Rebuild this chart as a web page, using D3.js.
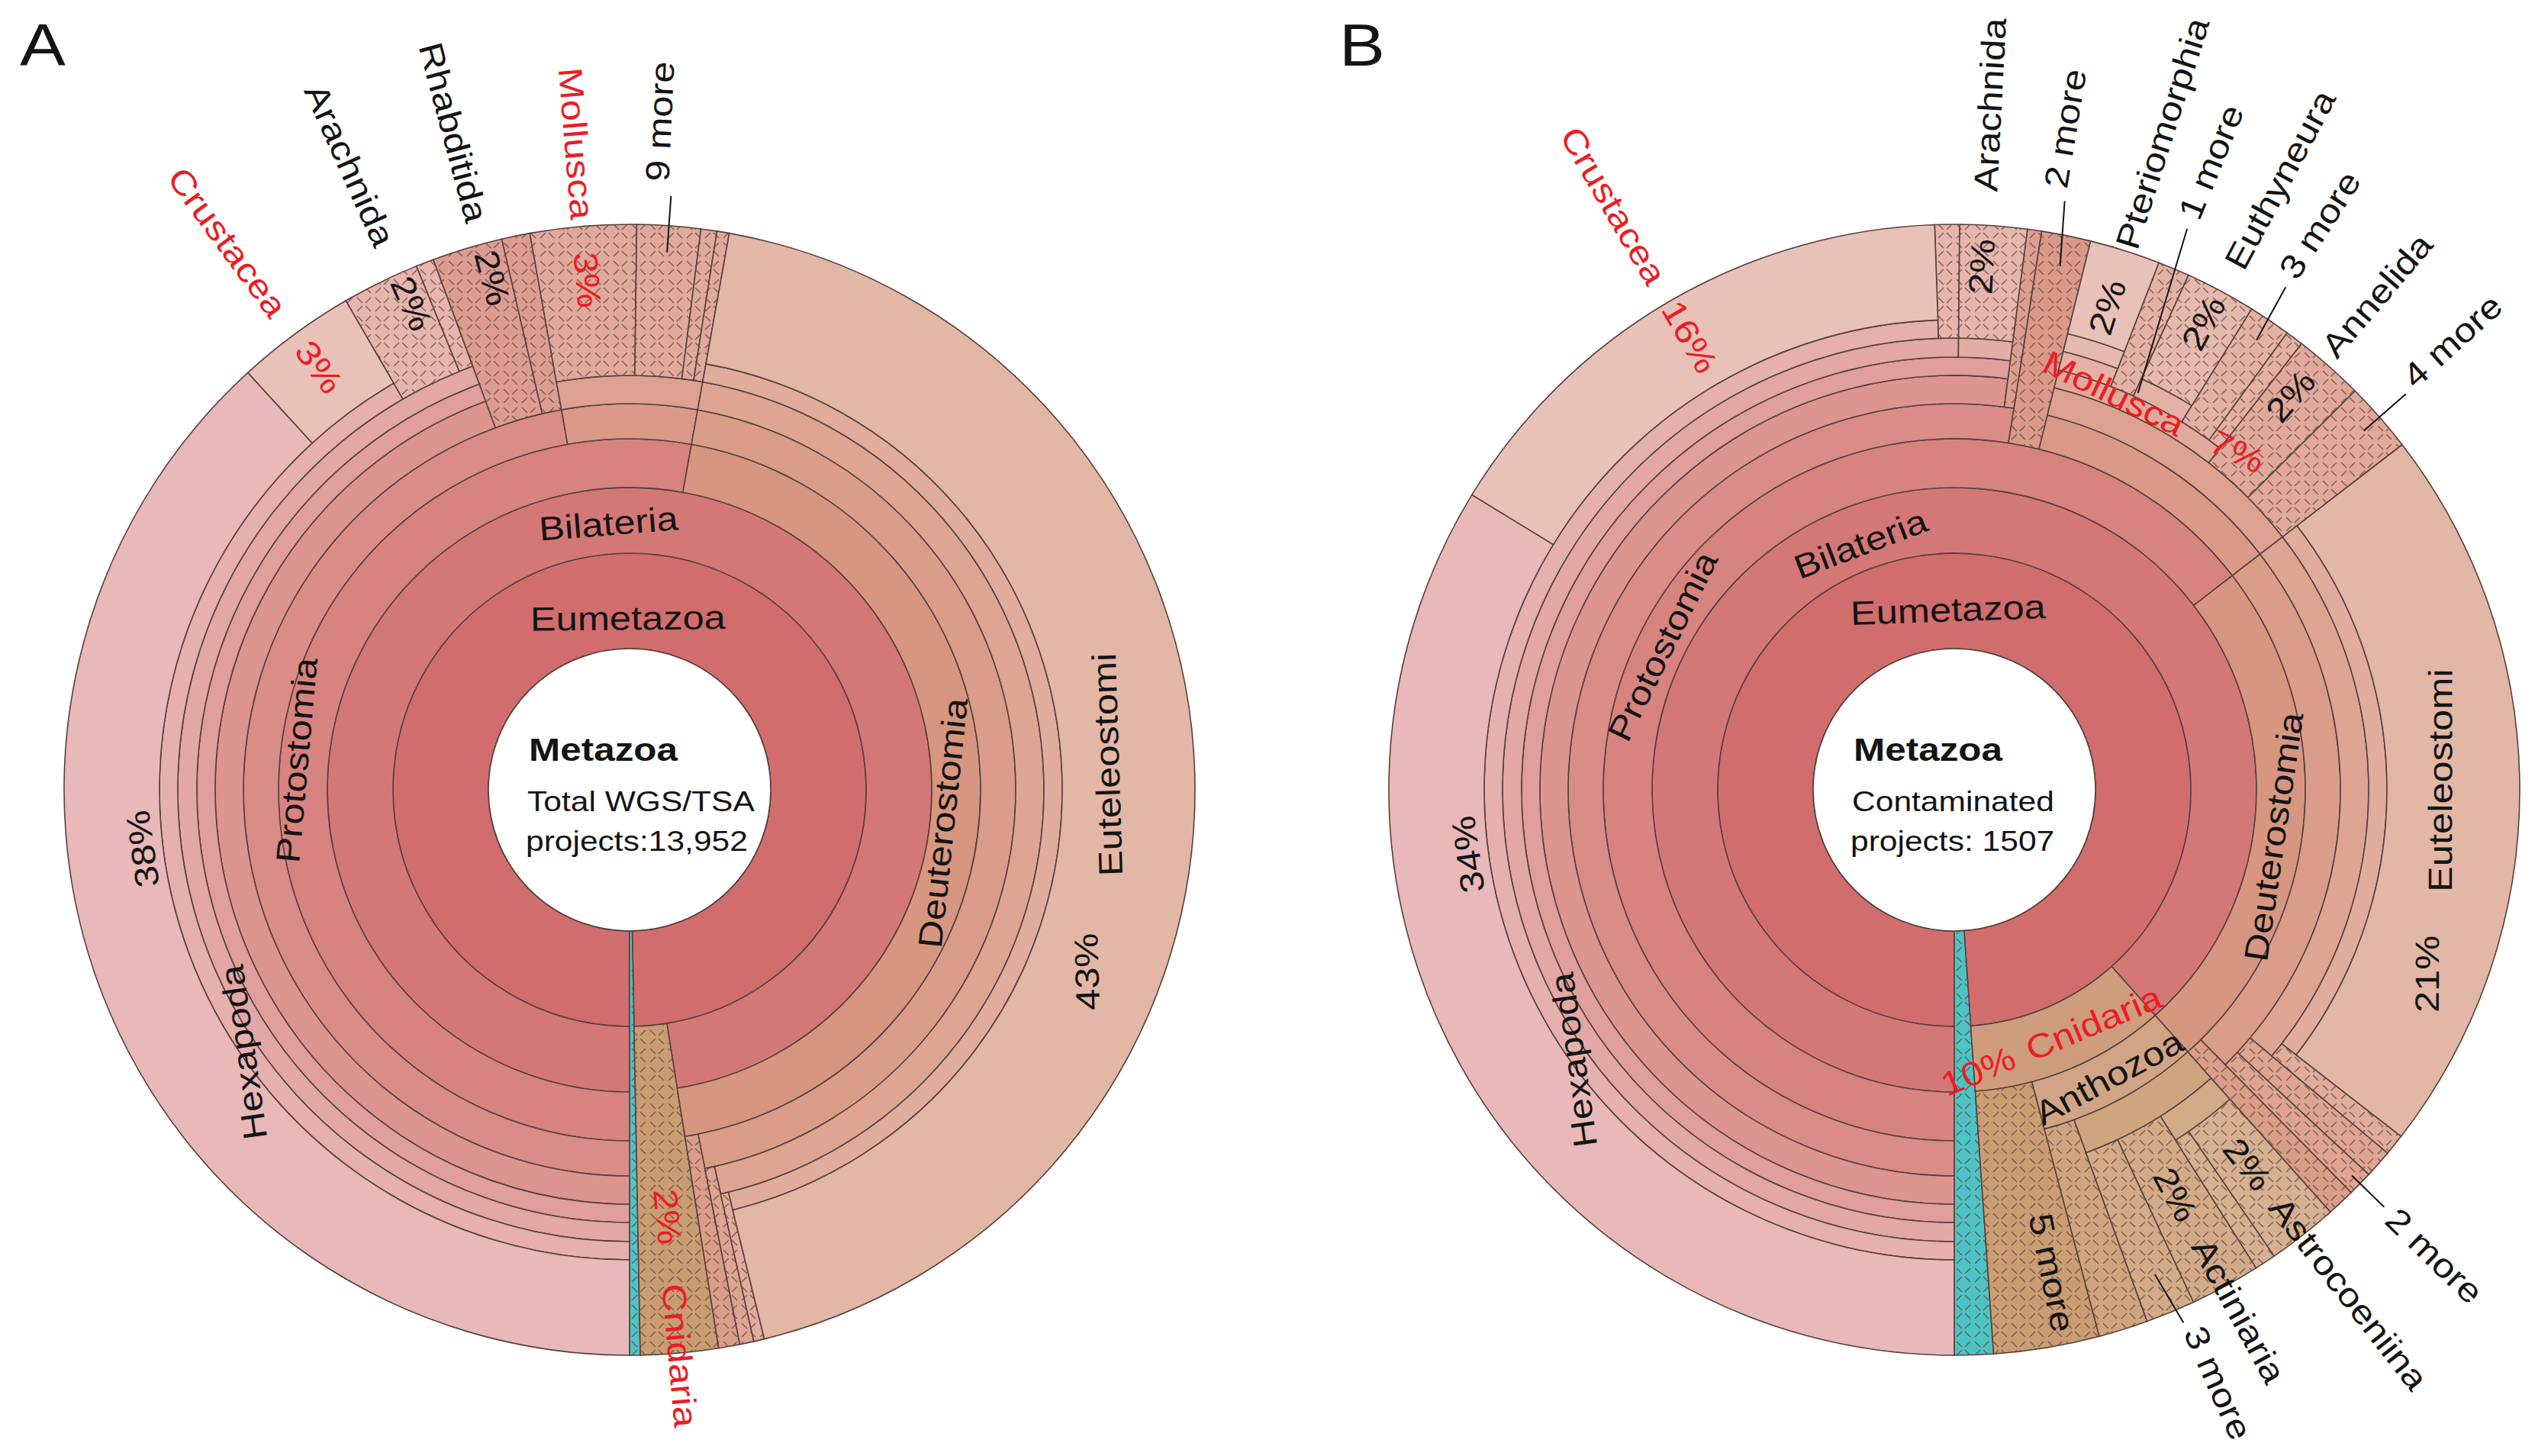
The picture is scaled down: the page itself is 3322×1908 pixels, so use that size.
<!DOCTYPE html>
<html>
<head>
    <meta charset="UTF-8">
    <script src="https://d3js.org/d3.v7.min.js"></script>
    <style>
        body { margin: 0; background: #ffffff; }
        text { font-family: "Liberation Sans", Arial, sans-serif; }
    </style>
</head>
<body>
<div id="Krona"></div>
<script>
    // ---------- panel A : all WGS/TSA projects (13,952), % of projects ----------
    const namesA = ["Metazoa", "Eumetazoa", "Bilateria", "Protostomia", "Ecdysozoa", "Panarthropoda",
        "Arthropoda", "Euarthropoda", "Pancrustacea", "Hexapoda", "Crustacea", "Arachnida", "Myriapoda",
        "Rhabditida", "Tardigrada", "Spiralia", "Lophotrochozoa", "Mollusca", "more9", "more9b", "more9c",
        "Deuterostomia", "Chordata", "Craniata", "Vertebrata", "Euteleostomi", "Cyclostomata", "Tunicata",
        "Ambulacraria", "Cnidaria", "Porifera"];
    const parentsA = ["", "Metazoa", "Eumetazoa", "Bilateria", "Protostomia", "Ecdysozoa",
        "Panarthropoda", "Arthropoda", "Euarthropoda", "Pancrustacea", "Pancrustacea", "Euarthropoda", "Euarthropoda",
        "Ecdysozoa", "Ecdysozoa", "Protostomia", "Spiralia", "Lophotrochozoa", "Lophotrochozoa", "Lophotrochozoa", "Lophotrochozoa",
        "Bilateria", "Deuterostomia", "Chordata", "Craniata", "Vertebrata", "Craniata", "Chordata",
        "Deuterostomia", "Eumetazoa", "Metazoa"];
    const valuesA = [0, 0, 0, 0, 0, 0,
        0, 0, 0, 37.9, 3.4, 2.2, 0.5,
        2.0, 0.8, 0, 0, 3.0, 1.8, 0.45, 0.35,
        0, 0, 0, 0, 43.0, 0.3, 0.4,
        0.6, 2.2, 0.3];
    const hatchedA = ["Arachnida", "Myriapoda", "Rhabditida", "Tardigrada", "Mollusca", "more9", "more9b", "more9c",
        "Cyclostomata", "Tunicata", "Ambulacraria", "Cnidaria", "Porifera"];
    const centerA = ["Metazoa", "Total WGS/TSA", "projects:13,952"];

    // ---------- panel B : contaminated projects (1507), % of projects ----------
    const namesB = ["Metazoa", "Eumetazoa", "Bilateria", "Protostomia", "Ecdysozoa", "Panarthropoda",
        "Arthropoda", "Mandibulata", "Pancrustacea", "Hexapoda", "Crustacea", "Myriapoda", "Chelicerata", "Arachnida",
        "Tardigrada", "more2p", "Spiralia", "Lophotrochozoa", "Mollusca", "Bivalvia", "Autobranchia", "Pteriomorphia",
        "more1", "Gastropoda", "Euthyneura", "more3m", "Polyplacophora", "Annelida", "more4",
        "Deuterostomia", "Chordata", "Craniata", "Vertebrata", "Euteleostomi", "Cyclostomata", "Tunicata", "more2d",
        "Ambulacraria", "Cnidaria", "Anthozoa", "Hexacorallia", "Scleractinia", "Astrocoeniina", "Faviina",
        "Actiniaria", "more3c", "Octocorallia", "more5", "Porifera"];
    const parentsB = ["", "Metazoa", "Eumetazoa", "Bilateria", "Protostomia", "Ecdysozoa",
        "Panarthropoda", "Arthropoda", "Mandibulata", "Pancrustacea", "Pancrustacea", "Mandibulata", "Arthropoda", "Chelicerata",
        "Ecdysozoa", "Protostomia", "Protostomia", "Spiralia", "Lophotrochozoa", "Mollusca", "Bivalvia", "Autobranchia",
        "Mollusca", "Mollusca", "Gastropoda", "Mollusca", "Mollusca", "Lophotrochozoa", "Lophotrochozoa",
        "Bilateria", "Deuterostomia", "Chordata", "Craniata", "Vertebrata", "Craniata", "Chordata", "Chordata",
        "Deuterostomia", "Eumetazoa", "Cnidaria", "Anthozoa", "Hexacorallia", "Scleractinia", "Scleractinia",
        "Hexacorallia", "Hexacorallia", "Anthozoa", "Cnidaria", "Metazoa"];
    const valuesB = [0, 0, 0, 0, 0, 0,
        0, 0, 0, 33.5, 15.6, 0.7, 0, 1.9,
        0.4, 1.4, 0, 0, 0, 0, 0, 2.0,
        0.9, 0, 2.0, 1.2, 0.5, 2.0, 2.0,
        0, 0, 0, 0, 20.8, 0.6, 0.8, 0.7,
        0.8, 0, 0, 0, 0, 2.0, 0.6,
        2.0, 1.4, 1.4, 3.0, 1.1];
    const hatchedB = ["Myriapoda", "Arachnida", "Tardigrada", "more2p", "more1", "Euthyneura", "more3m", "Polyplacophora",
        "Annelida", "more4", "Cyclostomata", "Tunicata", "more2d", "Ambulacraria", "Astrocoeniina", "Faviina",
        "Actiniaria", "more3c", "Octocorallia", "more5", "Porifera"];
    const centerB = ["Metazoa", "Contaminated", "projects: 1507"];

    // ---------- styles / layout ----------
    const width = 3322, height = 1908;
    const ringR = [185, 310, 396, 460, 506, 543, 567, 592, 616];   // ring borders by depth
    const outerR = 741;
    const stretch = 1.15;
    const red = "#ec1c24", ink = "#141414", edge = "#56403c";

    const huesA = {Eumetazoa: 0, Bilateria: 1, Protostomia: 2, Crustacea: 11, Arachnida: 8, Myriapoda: 8,
        Rhabditida: 8, Tardigrada: 8, Spiralia: 12, Deuterostomia: 15, Euteleostomi: 17, Cnidaria: 29, Porifera: 182};
    const huesB = {Eumetazoa: 0, Bilateria: 1, Protostomia: 2, Crustacea: 11, Myriapoda: 8, Chelicerata: 8,
        Tardigrada: 9, more2p: 12, Spiralia: 12, Deuterostomia: 15, Euteleostomi: 17, Cnidaria: 24, Hexacorallia: 28,
        Octocorallia: 28, more5: 29, Porifera: 182};
    const shadeA = {Cnidaria: -0.03};
    const shadeB = {Hexacorallia: -0.04, Octocorallia: -0.04, more5: -0.05};

    // label placement: tan = along ring, arc = name + % along ring, rad = radial, lead = radial with leader line
    const labelsA = [
        {id: "Eumetazoa", type: "tan", r: 225},
        {id: "Bilateria", type: "tan", r: 350},
        {id: "Protostomia", type: "tan", r: 438, da: 0},
        {id: "Deuterostomia", type: "tan", r: 413, da: 5.5},
        {id: "Hexapoda", type: "arc", nr: 612, da: -13, pr: 643, pa: 14.3, rot: -98},
        {id: "Euteleostomi", type: "arc", nr: 627, da: -1.2, pr: 645, pa: 23.5, up: true},
        {id: "Crustacea", type: "rad", red: true, pe: 724, ns: 775},
        {id: "Arachnida", type: "rad", da: 2, pe: 735, ns: 783},
        {id: "Rhabditida", type: "rad", da: 1.7, pe: 731, ns: 771},
        {id: "Mollusca", type: "rad", red: true, pe: 707, ns: 750},
        {id: "more9", type: "lead", text: "9 more", l0: 706, l1: 780, ts: 798, ta: -1.4},
        {id: "Cnidaria", type: "rad", red: true, pe: 598, ns: 650}
    ];
    const labelsB = [
        {id: "Eumetazoa", type: "tan", r: 236},
        {id: "Bilateria", type: "tan", r: 345},
        {id: "Protostomia", type: "tan", r: 426},
        {id: "Deuterostomia", type: "tan", r: 423, da: 3},
        {id: "Anthozoa", type: "tan", r: 428},
        {id: "Hexapoda", type: "arc", nr: 612, da: -6.1, pr: 643, pa: 21.7, rot: -98},
        {id: "Euteleostomi", type: "arc", nr: 637, da: -1.2, pr: 665, pa: 21.2, up: true},
        {id: "Mollusca", type: "arc", nr: 560, da: -4, pr: 578, pa: 14, red: true},
        {id: "Cnidaria", type: "arc", nr: 356, da: -8, pr: 370, pa: 18, red: true},
        {id: "Crustacea", type: "rad", red: true, pe: 738, ns: 771},
        {id: "Arachnida", type: "rad", da: -1, pe: 723, ns: 785},
        {id: "Pteriomorphia", type: "rad", pe: 700, ns: 745},
        {id: "Euthyneura", type: "rad", pe: 730, ns: 777},
        {id: "Annelida", type: "rad", da: -1, pe: 715, ns: 754},
        {id: "Actiniaria", type: "rad", pe: 641, ns: 674},
        {id: "Astrocoeniina", type: "rad", pe: 660, ns: 685},
        {id: "more5", type: "rad", text: "5 more", noPct: true, ns: 567, da: -2},
        {id: "more2p", type: "lead", text: "2 more", l0: 700, l1: 785, la1: -0.8, ts: 800, ta: -1.9},
        {id: "more1", type: "lead", text: "1 more", l0: 573, l1: 796, la0: 2, la1: -0.3, ts: 810, ta: -0.6},
        {id: "more3m", type: "lead", text: "3 more", l0: 710, l1: 789, la1: -0.5, ts: 803, ta: -1},
        {id: "more4", type: "lead", text: "4 more", l0: 714, l1: 787, ts: 800, ta: -0.8},
        {id: "more3c", type: "lead", text: "3 more", l0: 687, l1: 760, la1: -0.8, ts: 772, ta: -1.5},
        {id: "more2d", type: "lead", text: "2 more", l0: 726, l1: 785, ts: 798}
    ];

    const svg = d3.select("#Krona")
        .append("svg")
        .attr("width", width)
        .attr("height", height);

    // small dashes in a basket-weave, used for the marked taxa
    const pat = svg.append("defs").append("pattern")
        .attr("id", "hatch")
        .attr("patternUnits", "userSpaceOnUse")
        .attr("width", 24)
        .attr("height", 24);
    pat.append("path")
        .attr("d", "M3,3 L10,10 M14,10 L21,3 M3,21 L10,14 M14,14 L21,21")
        .attr("stroke", "#6b463a")
        .attr("stroke-opacity", 0.72)
        .attr("stroke-width", 1.7)
        .attr("fill", "none");

    function norm(a) {
        a = ((a % 360) + 360) % 360;
        return a > 180 ? a - 360 : a;
    }

    function polar(r, a) {
        const t = a * Math.PI / 180;
        return [r * Math.sin(t), -r * Math.cos(t)];
    }

    function addText(g, r, a, rot, txt, anchor, color) {
        const p = polar(r, a);
        g.append("text")
            .attr("transform", `translate(${p[0]},${p[1]}) rotate(${rot}) scale(${stretch},1)`)
            .attr("text-anchor", anchor)
            .attr("dominant-baseline", "central")
            .attr("fill", color)
            .style("font-size", "44px")
            .text(txt);
    }

    function nodeColor(d, hues, shades) {
        let h = 0, s = 0, n = d;
        while (n) {
            if (hues[n.id] !== undefined) { h = hues[n.id]; break; }
            n = n.parent;
        }
        n = d;
        while (n) {
            if (shades[n.id] !== undefined) { s = shades[n.id]; break; }
            n = n.parent;
        }
        if (h > 100) return "#4ec3c6";
        return d3.hsl(h, h > 23 ? 0.45 : 0.52, 0.60 + 0.024 * d.depth + s).toString();
    }

    function drawPanel(cx, cy, letter, names, parents, values, hatched, hues, shades, labels, center) {
        const g = svg.append("g").attr("transform", `translate(${cx},${cy})`);

        const rows = names.map((n, i) => ({id: n, parent: parents[i] || null, value: values[i]}));
        const root = d3.stratify().id(d => d.id).parentId(d => d.parent)(rows);
        root.sum(d => d.value);
        d3.partition().size([root.value, root.height + 1])(root);

        // start at 6 o'clock and go clockwise
        const ang = d3.scaleLinear().domain([0, root.value]).range([Math.PI, 3 * Math.PI]);
        const deg = x => ang(x) * 180 / Math.PI;

        const arc = d3.arc()
            .startAngle(d => ang(d.x0))
            .endAngle(d => ang(d.x1))
            .innerRadius(d => ringR[d.depth - 1])
            .outerRadius(d => d.children ? ringR[d.depth] : outerR);

        const nodes = root.descendants().filter(d => d.depth > 0);

        g.selectAll("path.slice")
            .data(nodes)
            .join("path")
            .attr("class", "slice")
            .attr("d", arc)
            .attr("fill", d => nodeColor(d, hues, shades))
            .attr("stroke", edge)
            .attr("stroke-width", 1.6);

        g.selectAll("path.hatch")
            .data(nodes.filter(d => hatched.includes(d.id)))
            .join("path")
            .attr("class", "hatch")
            .attr("d", arc)
            .attr("fill", "url(#hatch)")
            .attr("stroke", "none");

        // centre = root
        g.append("circle")
            .attr("r", ringR[0])
            .attr("fill", "#ffffff")
            .attr("stroke", edge)
            .attr("stroke-width", 1.6);

        g.append("text")
            .attr("transform", `translate(-132,-38) scale(${stretch},1)`)
            .style("font-size", "43px")
            .style("font-weight", "bold")
            .attr("fill", ink)
            .text(center[0]);
        g.append("text")
            .attr("transform", `translate(-134,28) scale(${stretch},1)`)
            .style("font-size", "37px")
            .attr("fill", ink)
            .text(center[1]);
        g.append("text")
            .attr("transform", `translate(-136,80) scale(${stretch},1)`)
            .style("font-size", "37px")
            .attr("fill", ink)
            .text(center[2]);

        const byId = new Map(nodes.map(d => [d.id, d]));

        labels.forEach(L => {
            const d = byId.get(L.id);
            const mid = (deg(d.x0) + deg(d.x1)) / 2;
            const col = L.red ? red : ink;
            const pct = Math.round(d.value / root.value * 100) + "%";
            const name = L.text || L.id;

            if (L.type === "tan") {
                const a = mid + (L.da || 0);
                let rot = norm(a);
                if (Math.abs(rot) > 90) rot = norm(rot + 180);
                addText(g, L.r, a, rot, name, "middle", col);
            } else if (L.type === "arc") {
                // one straight line tangent at the middle of the slice
                let rot;
                if (L.rot !== undefined) {
                    rot = L.rot;
                } else if (L.up) {
                    const m360 = ((mid % 360) + 360) % 360;
                    rot = m360 <= 180 ? m360 - 180 : m360 - 360;
                } else {
                    rot = norm(mid);
                    if (Math.abs(rot) > 90) rot = norm(rot + 180);
                }
                addText(g, L.nr, mid + L.da, rot, name, "middle", col);
                addText(g, L.pr, mid + L.pa, rot, pct, "middle", col);
            } else {
                const a = mid + (L.ta !== undefined ? L.ta : (L.da || 0));
                let rot = norm(a - 90), inward = false;
                if (Math.abs(rot) > 90) { rot = norm(rot + 180); inward = true; }
                if (L.type === "lead") {
                    const p0 = polar(L.l0, mid + (L.la0 || 0)), p1 = polar(L.l1, mid + (L.la1 || 0));
                    g.append("line")
                        .attr("x1", p0[0]).attr("y1", p0[1])
                        .attr("x2", p1[0]).attr("y2", p1[1])
                        .attr("stroke", ink)
                        .attr("stroke-width", 2);
                    addText(g, L.ts, a, rot, name, inward ? "end" : "start", col);
                } else {
                    addText(g, L.ns, a, rot, name, inward ? "end" : "start", col);
                    if (!L.noPct) addText(g, L.pe, a, rot, pct, inward ? "start" : "end", col);
                }
            }
        });

        svg.append("text")
            .attr("transform", `translate(${letter[1]},86) scale(${stretch},1)`)
            .style("font-size", "78px")
            .attr("fill", ink)
            .text(letter[0]);
    }

    drawPanel(825, 1035, ["A", 26], namesA, parentsA, valuesA, hatchedA, huesA, shadeA, labelsA, centerA);
    drawPanel(2561, 1035, ["B", 1755], namesB, parentsB, valuesB, hatchedB, huesB, shadeB, labelsB, centerB);
</script>
</body>
</html>
